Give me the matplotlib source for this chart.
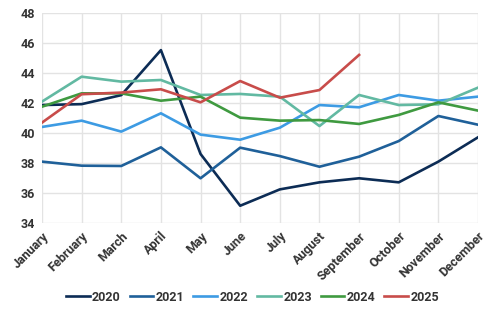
import matplotlib.pyplot as plt
import numpy as np

months = ['January', 'February', 'March', 'April', 'May', 'June', 'July',
          'August', 'September', 'October', 'November', 'December']

y2020 = [41.84, 41.9, 42.5, 45.5, 38.58, 35.13, 36.22, 36.69, 36.96, 36.69, 38.07, 39.69]
y2021 = [38.07, 37.8, 37.78, 39.02, 36.96, 39.0, 38.44, 37.73, 38.4, 39.44, 41.11, 40.53]
y2022 = [40.38, 40.8, 40.07, 41.29, 39.87, 39.53, 40.33, 41.84, 41.69, 42.51, 42.13, 42.4]
y2023 = [42.07, 43.73, 43.4, 43.51, 42.51, 42.58, 42.4, 40.44, 42.51, 41.84, 41.89, 43.0]
y2024 = [41.73, 42.62, 42.62, 42.13, 42.4, 41.0, 40.8, 40.84, 40.58, 41.18, 42.02, 41.47]
y2025 = [40.67, 42.56, 42.67, 42.89, 42.02, 43.44, 42.33, 42.84, 45.18]

series = [('2020', y2020, '#0c2c55'),
          ('2021', y2021, '#1f6099'),
          ('2022', y2022, '#3d9be3'),
          ('2023', y2023, '#62b9a2'),
          ('2024', y2024, '#3f9a40'),
          ('2025', y2025, '#c84c4a')]

plt.rcParams['font.family'] = ['Roboto', 'DejaVu Sans']

fig = plt.figure(figsize=(5, 3.15), dpi=100)
ax = fig.add_axes([0.084, 0.293, 0.872, 0.667])

x = np.arange(len(months))
for name, vals, col in series:
    ax.plot(x[:len(vals)], vals, color=col, lw=1.9, label=name)

ax.set_xlim(0, 11)
ax.set_ylim(34, 48)
ax.set_yticks(np.arange(34, 49, 2))
ax.set_xticks(x)
ax.set_xticklabels(months, rotation=45, ha='right', rotation_mode='anchor',
                   fontsize=9, fontweight='bold', color='#333333')
for lab in ax.get_yticklabels():
    lab.set_fontsize(9)
    lab.set_fontweight('bold')
    lab.set_color('#333333')
ax.tick_params(length=0, pad=5)
ax.grid(True, color='#e3e3e3', lw=1)
for s in ax.spines.values():
    s.set_visible(False)

fig.legend(loc='center', bbox_to_anchor=(0.505, 0.057), ncol=6, frameon=False,
           prop={'size': 9, 'weight': 'bold'}, handlelength=1.9, handletextpad=0.2,
           columnspacing=0.7, labelcolor='#333333')

fig.savefig('out.png', dpi=100)
